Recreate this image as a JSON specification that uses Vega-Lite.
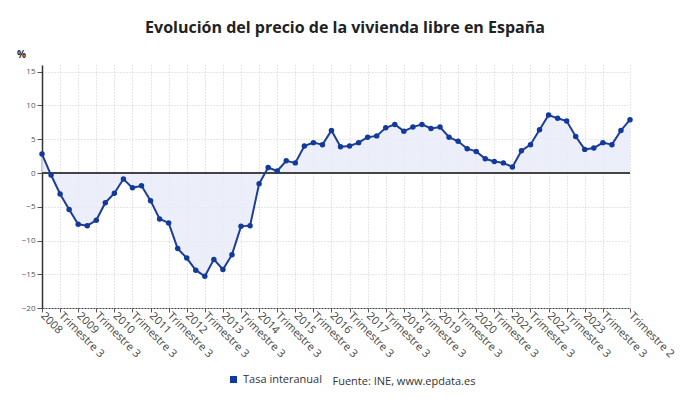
{
  "$schema": "https://vega.github.io/schema/vega-lite/v6.json",
  "width": 588,
  "height": 243,
  "autosize": {"type": "none"},
  "padding": {"left": 42, "top": 65, "right": 60, "bottom": 97},
  "background": "white",
  "config": {
    "font": "Open Sans",
    "view": {"stroke": null},
    "axisY": {"labelOverlap": false}
  },
  "title": {
    "text": "Evolución del precio de la vivienda libre en España",
    "fontSize": 16,
    "fontWeight": "bold",
    "color": "#222222",
    "anchor": "middle",
    "frame": "group",
    "dx": 9,
    "offset": 13
  },
  "data": {
    "values": [
      {"periodo": "2008 T1", "valor": 2.8},
      {"periodo": "2008 T2", "valor": -0.3},
      {"periodo": "2008 T3", "valor": -3.1},
      {"periodo": "2008 T4", "valor": -5.4},
      {"periodo": "2009 T1", "valor": -7.6},
      {"periodo": "2009 T2", "valor": -7.8},
      {"periodo": "2009 T3", "valor": -7.0},
      {"periodo": "2009 T4", "valor": -4.4},
      {"periodo": "2010 T1", "valor": -3.0},
      {"periodo": "2010 T2", "valor": -0.9},
      {"periodo": "2010 T3", "valor": -2.2},
      {"periodo": "2010 T4", "valor": -1.9},
      {"periodo": "2011 T1", "valor": -4.1},
      {"periodo": "2011 T2", "valor": -6.8},
      {"periodo": "2011 T3", "valor": -7.4},
      {"periodo": "2011 T4", "valor": -11.2},
      {"periodo": "2012 T1", "valor": -12.6},
      {"periodo": "2012 T2", "valor": -14.4},
      {"periodo": "2012 T3", "valor": -15.3},
      {"periodo": "2012 T4", "valor": -12.8},
      {"periodo": "2013 T1", "valor": -14.3},
      {"periodo": "2013 T2", "valor": -12.1},
      {"periodo": "2013 T3", "valor": -7.9},
      {"periodo": "2013 T4", "valor": -7.8},
      {"periodo": "2014 T1", "valor": -1.6},
      {"periodo": "2014 T2", "valor": 0.8},
      {"periodo": "2014 T3", "valor": 0.3},
      {"periodo": "2014 T4", "valor": 1.8},
      {"periodo": "2015 T1", "valor": 1.5},
      {"periodo": "2015 T2", "valor": 4.0},
      {"periodo": "2015 T3", "valor": 4.5},
      {"periodo": "2015 T4", "valor": 4.2},
      {"periodo": "2016 T1", "valor": 6.3},
      {"periodo": "2016 T2", "valor": 3.9},
      {"periodo": "2016 T3", "valor": 4.0},
      {"periodo": "2016 T4", "valor": 4.5},
      {"periodo": "2017 T1", "valor": 5.3},
      {"periodo": "2017 T2", "valor": 5.5},
      {"periodo": "2017 T3", "valor": 6.7},
      {"periodo": "2017 T4", "valor": 7.2},
      {"periodo": "2018 T1", "valor": 6.2},
      {"periodo": "2018 T2", "valor": 6.8},
      {"periodo": "2018 T3", "valor": 7.2},
      {"periodo": "2018 T4", "valor": 6.6},
      {"periodo": "2019 T1", "valor": 6.8},
      {"periodo": "2019 T2", "valor": 5.3},
      {"periodo": "2019 T3", "valor": 4.7},
      {"periodo": "2019 T4", "valor": 3.6},
      {"periodo": "2020 T1", "valor": 3.2},
      {"periodo": "2020 T2", "valor": 2.1},
      {"periodo": "2020 T3", "valor": 1.7},
      {"periodo": "2020 T4", "valor": 1.5},
      {"periodo": "2021 T1", "valor": 0.9},
      {"periodo": "2021 T2", "valor": 3.3},
      {"periodo": "2021 T3", "valor": 4.2},
      {"periodo": "2021 T4", "valor": 6.4},
      {"periodo": "2022 T1", "valor": 8.6},
      {"periodo": "2022 T2", "valor": 8.1},
      {"periodo": "2022 T3", "valor": 7.7},
      {"periodo": "2022 T4", "valor": 5.4},
      {"periodo": "2023 T1", "valor": 3.5},
      {"periodo": "2023 T2", "valor": 3.7},
      {"periodo": "2023 T3", "valor": 4.5},
      {"periodo": "2023 T4", "valor": 4.2},
      {"periodo": "2024 T1", "valor": 6.3},
      {"periodo": "2024 T2", "valor": 7.9}
    ]
  },
  "encoding": {
    "x": {
      "field": "periodo",
      "type": "ordinal",
      "scale": {"type": "point", "padding": 0},
      "axis": {
        "title": "Fuente: INE, www.epdata.es",
        "titleX": 290,
        "titleY": 76,
        "titleAlign": "left",
        "titleBaseline": "alphabetic",
        "titleFontSize": 11,
        "titleFontWeight": "normal",
        "titleColor": "#333333",
        "values": ["2008 T1","2008 T3","2009 T1","2009 T3","2010 T1","2010 T3","2011 T1","2011 T3","2012 T1","2012 T3","2013 T1","2013 T3","2014 T1","2014 T3","2015 T1","2015 T3","2016 T1","2016 T3","2017 T1","2017 T3","2018 T1","2018 T3","2019 T1","2019 T3","2020 T1","2020 T3","2021 T1","2021 T3","2022 T1","2022 T3","2023 T1","2023 T3","2024 T2"],
        "labelExpr": "slice(datum.value, 5) == 'T1' ? slice(datum.value, 0, 4) : (slice(datum.value, 5) == 'T3' ? 'Trimestre 3' : 'Trimestre 2')",
        "labelAngle": 45,
        "labelAlign": "left",
        "labelBaseline": "middle",
        "labelFontSize": 11,
        "labelColor": "#444444",
        "labelPadding": 2,
        "labelOverlap": false,
        "tickSize": 4,
        "tickColor": "#555555",
        "domainColor": "#444444",
        "domainDash": [2, 1],
        "grid": true,
        "gridColor": "#cccccc",
        "gridDash": [1, 2]
      }
    },
    "y": {
      "field": "valor",
      "type": "quantitative",
      "scale": {"domain": [-20, 16], "nice": false},
      "axis": {
        "title": "%",
        "titleAngle": 0,
        "titleX": -21,
        "titleY": -8,
        "titleAlign": "center",
        "titleBaseline": "alphabetic",
        "titleFontSize": 10,
        "titleFontWeight": "bold",
        "titleColor": "#222222",
        "values": [-20, -15, -10, -5, 0, 5, 10, 15],
        "labelOverlap": false,
        "labelFontSize": 8,
        "labelColor": "#555555",
        "labelPadding": 2,
        "tickSize": 5,
        "tickColor": "#555555",
        "domainColor": "#333333",
        "domainWidth": 1.5,
        "grid": true,
        "gridColor": "#cccccc",
        "gridDash": [1, 2]
      }
    }
  },
  "layer": [
    {
      "mark": {"type": "area", "color": "#e9ecf8", "opacity": 0.85},
      "encoding": {"y2": {"datum": 0}}
    },
    {
      "mark": {"type": "rule", "color": "#444444", "strokeWidth": 1.5},
      "encoding": {"y": {"datum": 0}, "x": null}
    },
    {
      "mark": {"type": "line", "color": "#1c3d98", "strokeWidth": 2},
      "encoding": {}
    },
    {
      "mark": {"type": "point", "filled": true, "opacity": 1, "size": 30},
      "encoding": {
        "color": {
          "datum": "Tasa interanual",
          "type": "nominal",
          "scale": {"range": ["#123a9c"]},
          "legend": {
            "orient": "none",
            "legendX": 186,
            "legendY": 309,
            "title": null,
            "symbolType": "square",
            "symbolSize": 50,
            "symbolOpacity": 1,
            "labelFontSize": 11,
            "labelColor": "#333333",
            "labelOffset": 4
          }
        }
      }
    }
  ]
}
